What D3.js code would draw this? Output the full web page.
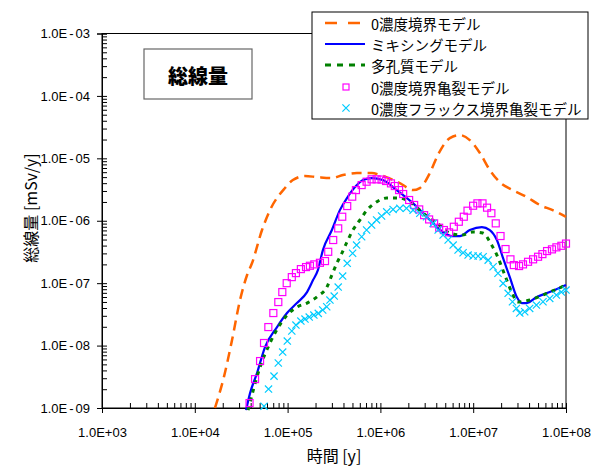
<!DOCTYPE html>
<html><head>
<meta charset="utf-8">
<script src="https://d3js.org/d3.v7.min.js"></script>
<style>
  body { margin: 0; background: #fff; }
  .tick text { font-family: "Liberation Sans", Arial, sans-serif; font-size: 13px; fill: #000; }
  .jp { font-family: "Noto Sans CJK JP", sans-serif; }
</style>
</head>
<body>
<div id="container"></div>
<script>
// ---- data: time [y] and dose [mSv/y] ----
const boundaryT = [1.65e4,2.07e4,2.52e4,3.07e4,3.66e4,4.14e4,5.30e4,6.46e4,9.37e4,1.14e5,1.54e5,2.07e5,3.00e5,3.95e5,5.58e5,8.10e5,9.88e5,1.62e6,2.24e6,2.66e6,3.41e6,4.16e6,5.60e6,7.18e6,9.19e6,1.18e7,1.51e7,1.93e7,2.67e7,3.78e7,5.21e7,7.19e7,1e8];
const boundaryV = [1.0e-9,3.24e-9,1.23e-8,5.36e-8,1.35e-7,2.10e-7,7.10e-7,1.48e-6,3.34e-6,4.49e-6,5.20e-6,5.01e-6,4.83e-6,5.40e-6,5.81e-6,5.81e-6,5.40e-6,4.02e-6,3.10e-6,3.34e-6,5.81e-6,1.13e-5,2.11e-5,2.36e-5,1.96e-5,1.22e-5,6.49e-6,4.17e-6,3.10e-6,2.40e-6,1.79e-6,1.48e-6,1.15e-6];

const mixingT = [3.57e4,3.94e4,4.68e4,5.71e4,7.69e4,9.86e4,1.26e5,1.62e5,1.88e5,2.12e5,2.40e5,3.00e5,3.66e5,4.36e5,5.58e5,6.48e5,8.10e5,1.06e6,1.50e6,2.24e6,3.41e6,4.71e6,5.89e6,7.18e6,9.19e6,1.24e7,1.51e7,1.80e7,2.08e7,2.48e7,2.95e7,3.34e7,3.78e7,4.84e7,6.68e7,1e8];
const mixingV = [9.25e-10,1.73e-9,3.62e-9,9.46e-9,1.98e-8,3.32e-8,4.80e-8,7.20e-8,1.12e-7,1.62e-7,3.39e-7,7.10e-7,1.48e-6,2.31e-6,3.73e-6,4.49e-6,4.83e-6,4.49e-6,3.10e-6,1.92e-6,1.03e-6,6.59e-7,5.69e-7,5.69e-7,7.10e-7,7.92e-7,7.10e-7,4.91e-7,2.62e-7,1.25e-7,5.99e-8,4.80e-8,4.80e-8,5.99e-8,7.20e-8,9.33e-8];

const porousT = [3.75e4,5.05e4,6.46e4,9.86e4,1.26e5,1.62e5,2.12e5,2.65e5,3.00e5,3.40e5,3.85e5,4.36e5,5.06e5,6.03e5,7.16e5,8.73e5,1.17e6,1.62e6,2.08e6,2.87e6,4.06e6,5.60e6,7.53e6,9.89e6,1.27e7,1.58e7,1.84e7,2.19e7,2.60e7,3.01e7,4.06e7,6.68e7,1e8];
const porousV = [9.25e-10,4.52e-9,1.10e-8,3.08e-8,4.14e-8,4.80e-8,6.21e-8,8.65e-8,1.35e-7,2.10e-7,3.03e-7,4.56e-7,7.10e-7,1.03e-6,1.48e-6,1.92e-6,2.31e-6,2.31e-6,2.00e-6,1.33e-6,9.19e-7,6.35e-7,5.90e-7,6.59e-7,6.35e-7,4.08e-7,2.62e-7,1.35e-7,7.20e-8,4.98e-8,5.36e-8,7.20e-8,9.33e-8];

const crackT = [3.89e4,4.46e4,5.05e4,5.57e4,6.20e4,7.02e4,7.94e4,8.77e4,9.78e4,1.11e5,1.23e5,1.39e5,1.58e5,1.74e5,1.94e5,2.23e5,2.53e5,2.74e5,3.10e5,3.51e5,3.88e5,4.39e5,4.97e5,5.45e5,6.28e5,7.10e5,8.04e5,9.10e5,1.03e6,1.15e6,1.30e6,1.43e6,1.59e6,1.76e6,2.04e6,2.31e6,2.62e6,2.96e6,3.35e6,3.79e6,4.30e6,4.83e6,5.50e6,6.18e6,7.00e6,7.92e6,8.68e6,9.98e6,1.11e7,1.26e7,1.41e7,1.57e7,1.75e7,1.97e7,2.23e7,2.52e7,2.74e7,3.12e7,3.44e7,3.90e7,4.42e7,5.00e7,5.57e7,6.25e7,7.06e7,7.88e7,8.91e7,1.0e8];
const crackV = [1.20e-9,2.90e-9,5.65e-9,1.10e-8,1.98e-8,3.32e-8,4.98e-8,7.20e-8,1.00e-7,1.25e-7,1.45e-7,1.68e-7,1.81e-7,1.90e-7,2.00e-7,2.12e-7,2.26e-7,3.18e-7,4.91e-7,7.55e-7,1.16e-6,1.72e-6,2.43e-6,3.10e-6,3.73e-6,4.22e-6,4.61e-6,4.61e-6,4.57e-6,4.33e-6,3.97e-6,3.60e-6,3.10e-6,2.68e-6,2.15e-6,1.79e-6,1.52e-6,1.23e-6,1.05e-6,9.08e-7,7.73e-7,7.10e-7,6.52e-7,8.02e-7,9.64e-7,1.16e-6,1.45e-6,1.74e-6,1.90e-6,1.90e-6,1.62e-6,1.32e-6,9.08e-7,5.69e-7,3.52e-7,2.41e-7,1.95e-7,1.88e-7,2.00e-7,2.20e-7,2.41e-7,2.65e-7,2.92e-7,3.27e-7,3.48e-7,3.75e-7,3.97e-7,4.31e-7];

const fluxCrackT = [5.57e4,6.23e4,7.14e4,7.94e4,8.85e4,9.93e4,1.11e5,1.23e5,1.39e5,1.54e5,1.71e5,1.92e5,2.14e5,2.39e5,2.64e5,2.86e5,3.18e5,3.51e5,3.92e5,4.39e5,5.02e5,5.54e5,6.28e5,7.10e5,8.04e5,9.10e5,1.03e6,1.17e6,1.37e6,1.62e6,1.91e6,2.25e6,2.66e6,3.14e6,3.70e6,4.19e6,4.74e6,5.37e6,6.08e6,6.87e6,7.78e6,8.81e6,9.98e6,1.13e7,1.28e7,1.45e7,1.64e7,1.85e7,2.10e7,2.38e7,2.65e7,2.92e7,3.18e7,3.59e7,4.06e7,4.80e7,5.65e7,6.68e7,7.88e7,8.91e7,1.0e8];
const fluxCrackV = [1.07e-9,2.01e-9,3.24e-9,5.25e-9,7.87e-9,1.18e-8,1.71e-8,2.13e-8,2.47e-8,2.66e-8,2.86e-8,3.08e-8,3.28e-8,3.71e-8,4.19e-8,5.36e-8,6.21e-8,8.65e-8,1.30e-7,2.08e-7,3.01e-7,4.08e-7,5.54e-7,7.10e-7,8.53e-7,1.03e-6,1.19e-6,1.39e-6,1.52e-6,1.58e-6,1.58e-6,1.48e-6,1.32e-6,1.16e-6,9.08e-7,7.10e-7,5.90e-7,4.91e-7,4.08e-7,3.39e-7,3.07e-7,2.82e-7,2.72e-7,2.72e-7,2.65e-7,2.34e-7,1.83e-7,1.44e-7,9.93e-8,6.87e-8,5.04e-8,3.94e-8,3.32e-8,3.48e-8,3.94e-8,4.46e-8,5.04e-8,5.70e-8,6.45e-8,7.20e-8,7.75e-8];

const seriesNames = ["0濃度境界モデル","ミキシングモデル","多孔質モデル","0濃度境界亀裂モデル","0濃度フラックス境界亀裂モデル"];
const xTickValues = [1e3,1e4,1e5,1e6,1e7,1e8];
const yTickValues = [1e-9,1e-8,1e-7,1e-6,1e-5,1e-4,1e-3];

// ---- layout ----
const width = 591, height = 466;
const plot = { left: 102, right: 566, top: 33.5, bottom: 408 };

const svg = d3.select("#container").append("svg")
  .attr("width", width).attr("height", height)
  .style("background", "#fff");

const xScale = d3.scaleLog().domain([1e3, 1e8]).range([plot.left, plot.right]);
const yScale = d3.scaleLog().domain([1e-9, 1e-3]).range([plot.bottom, plot.top]);

const fmt = v => {
  const e = Math.round(Math.log10(v));
  return "1.0E" + (e < 0 ? "-" : "+") + String(Math.abs(e)).padStart(2, "0");
};

// minor ticks 2..9 in every decade
const minorOf = (lo, hi) => {
  const out = [];
  for (let p = lo; p < hi; p++) for (let k = 2; k <= 9; k++) out.push(k * Math.pow(10, p));
  return out;
};
const xMinor = minorOf(3, 8);
const yMinor = minorOf(-9, -3);

// plot frame
svg.append("rect")
  .attr("x", plot.left).attr("y", plot.top)
  .attr("width", plot.right - plot.left).attr("height", plot.bottom - plot.top)
  .attr("fill", "none").attr("stroke", "#000").attr("stroke-width", 1);

// x axis: major ticks cross the axis, minor ticks point inside
const xAxisArea = svg.append("g").attr("transform", `translate(0,${plot.bottom})`);
xAxisArea.call(d3.axisBottom(xScale).tickValues(xTickValues).tickFormat(fmt).tickSize(5).tickPadding(15));
xAxisArea.selectAll(".tick line").attr("y1", -5);
xAxisArea.append("g").call(d3.axisBottom(xScale).tickValues(xMinor).tickFormat("").tickSize(-5));

// y axis
const yAxisArea = svg.append("g").attr("transform", `translate(${plot.left},0)`);
yAxisArea.call(d3.axisLeft(yScale).tickValues(yTickValues).tickFormat(fmt).tickSize(5).tickPadding(7));
yAxisArea.selectAll(".tick line").attr("x1", 5);
// spaced hyphen as in the original labels
yAxisArea.selectAll(".tick text").each(function(d) {
  const t = d3.select(this), s = fmt(d);
  t.text(null);
  t.append("tspan").text(s.slice(0, 4));
  t.append("tspan").attr("dx", 2).text("-");
  t.append("tspan").attr("dx", 2).text(s.slice(5));
});
yAxisArea.append("g").call(d3.axisLeft(yScale).tickValues(yMinor).tickFormat("").tickSize(-5));

// axis titles
svg.append("text").attr("class", "jp")
  .attr("x", 334).attr("y", 455).attr("text-anchor", "middle").attr("dominant-baseline", "central")
  .attr("font-size", 16).text("時間 [y]");
svg.append("text").attr("class", "jp")
  .attr("transform", "translate(30,208) rotate(-90)")
  .attr("text-anchor", "middle").attr("dominant-baseline", "central")
  .attr("font-size", 16).text("総線量 [mSv/y]");

// ---- series ----
const zip = (t, v) => t.map((d, i) => [d, v[i]]);
const line = d3.line().x(d => xScale(d[0])).y(d => yScale(d[1])).curve(d3.curveMonotoneX);

svg.append("path").datum(zip(boundaryT, boundaryV))
  .attr("d", line).attr("fill", "none").attr("stroke", "#FF6600")
  .attr("stroke-width", 2.5).attr("stroke-dasharray", "10,6");
svg.append("path").datum(zip(mixingT, mixingV))
  .attr("d", line).attr("fill", "none").attr("stroke", "#0000FF").attr("stroke-width", 2.2);
svg.append("path").datum(zip(porousT, porousV))
  .attr("d", line).attr("fill", "none").attr("stroke", "#008000")
  .attr("stroke-width", 3).attr("stroke-dasharray", "4,5");

const sq = 7;
svg.append("g").selectAll("rect").data(zip(crackT, crackV)).join("rect")
  .attr("x", d => xScale(d[0]) - sq / 2).attr("y", d => yScale(d[1]) - sq / 2)
  .attr("width", sq).attr("height", sq)
  .attr("fill", "none").attr("stroke", "#FF00FF").attr("stroke-width", 1.2);

const cr = 3.6;
const crossPath = (cx, cy) => `M${cx - cr},${cy - cr}L${cx + cr},${cy + cr}M${cx - cr},${cy + cr}L${cx + cr},${cy - cr}`;
svg.append("g").selectAll("path").data(zip(fluxCrackT, fluxCrackV)).join("path")
  .attr("d", d => crossPath(xScale(d[0]), yScale(d[1])))
  .attr("fill", "none").attr("stroke", "#00CCFF").attr("stroke-width", 1.2);

// ---- title box ----
svg.append("rect").attr("x", 144).attr("y", 49).attr("width", 108).attr("height", 50)
  .attr("fill", "#fff").attr("stroke", "#666").attr("stroke-width", 1.2);
svg.append("text").attr("class", "jp")
  .attr("x", 198).attr("y", 75).attr("text-anchor", "middle").attr("dominant-baseline", "central")
  .attr("font-size", 20).attr("font-weight", 900).text("総線量");

// ---- legend ----
const legend = svg.append("g");
legend.append("rect").attr("x", 312).attr("y", 12).attr("width", 276).attr("height", 107)
  .attr("fill", "#fff").attr("stroke", "#000").attr("stroke-width", 1);
const legY = [23, 44, 65, 87, 108];
legend.append("line").attr("x1", 325).attr("x2", 365).attr("y1", legY[0]).attr("y2", legY[0])
  .attr("stroke", "#FF6600").attr("stroke-width", 2.5).attr("stroke-dasharray", "12,11");
legend.append("line").attr("x1", 325).attr("x2", 365).attr("y1", legY[1]).attr("y2", legY[1])
  .attr("stroke", "#0000FF").attr("stroke-width", 2.2);
legend.append("line").attr("x1", 325).attr("x2", 365).attr("y1", legY[2]).attr("y2", legY[2])
  .attr("stroke", "#008000").attr("stroke-width", 3).attr("stroke-dasharray", "6,6");
legend.append("rect").attr("x", 346 - 3).attr("y", legY[3] - 3).attr("width", 6).attr("height", 6)
  .attr("fill", "none").attr("stroke", "#FF00FF").attr("stroke-width", 1.2);
legend.append("path").attr("d", crossPath(346, legY[4]))
  .attr("fill", "none").attr("stroke", "#00CCFF").attr("stroke-width", 1.2);
legend.selectAll("text.leg").data(seriesNames).join("text").attr("class", "leg jp")
  .attr("x", 371).attr("y", (d, i) => legY[i]).attr("dominant-baseline", "central")
  .attr("font-size", 14.5).text(d => d);
</script>
</body>
</html>
